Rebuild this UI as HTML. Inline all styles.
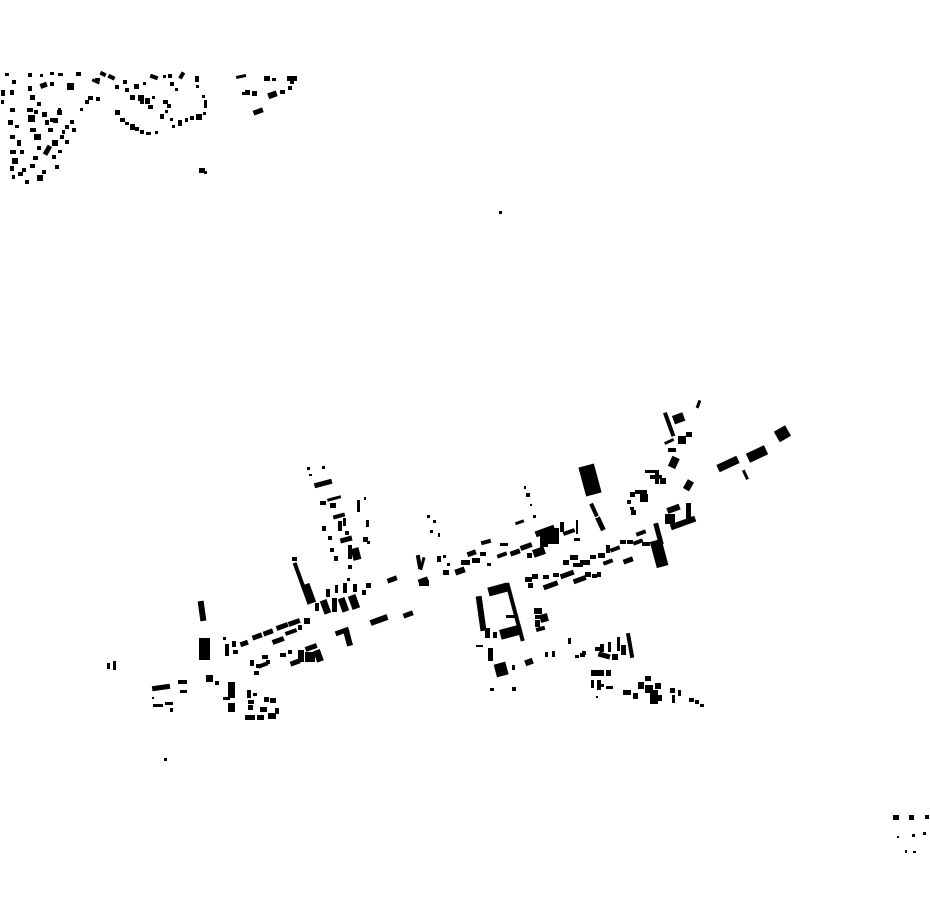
<!DOCTYPE html>
<html><head><meta charset="utf-8"><style>html,body{margin:0;padding:0;background:#fff}svg{display:block}</style></head>
<body>
<svg width="930" height="924" viewBox="0 0 930 924" xmlns="http://www.w3.org/2000/svg">
<g fill="#000">
<!-- north-west village -->
<rect x="5" y="73" width="4" height="3"/><rect x="28" y="73" width="4" height="4"/><rect x="40" y="74" width="3" height="3"/><rect x="50" y="72" width="4" height="3"/><rect x="58" y="73" width="5" height="3"/><rect x="76" y="72" width="5" height="4"/>
<rect x="12" y="80" width="4" height="4"/><rect x="1" y="90" width="4" height="6"/><rect x="10" y="90" width="4" height="5"/><rect x="1" y="100" width="3" height="4"/>
<rect x="28" y="86" width="4" height="5"/><rect x="40" y="83" width="7" height="5" transform="rotate(-20 43 85)"/><rect x="50" y="82" width="4" height="4"/><rect x="67" y="83" width="7" height="7"/>
<rect x="30" y="95" width="5" height="5"/><rect x="37" y="102" width="4" height="4"/><rect x="27" y="108" width="6" height="4"/>
<rect x="10" y="108" width="5" height="4"/><rect x="8" y="120" width="5" height="5"/><rect x="15" y="125" width="4" height="3"/>
<rect x="28" y="115" width="7" height="7"/><rect x="34" y="110" width="4" height="4"/><rect x="42" y="112" width="5" height="5"/>
<rect x="30" y="128" width="6" height="4"/><rect x="34" y="134" width="7" height="6"/><rect x="57" y="110" width="5" height="5"/>
<rect x="10" y="135" width="5" height="4"/><rect x="17" y="140" width="4" height="6"/><rect x="10" y="150" width="6" height="4"/><rect x="20" y="150" width="4" height="4"/>
<rect x="45" y="120" width="4" height="5"/><rect x="50" y="118" width="4" height="4"/><rect x="48" y="128" width="5" height="4"/>
<rect x="53" y="118" width="5" height="5"/><rect x="58" y="108" width="3" height="3"/>
<rect x="45" y="145" width="5" height="10" transform="rotate(30 47 150)"/><rect x="52" y="140" width="6" height="6"/><rect x="60" y="135" width="4" height="4"/>
<rect x="65" y="125" width="4" height="4"/><rect x="70" y="120" width="4" height="4"/><rect x="62" y="130" width="3" height="4"/>
<rect x="12" y="158" width="6" height="6"/><rect x="10" y="166" width="4" height="5"/><rect x="12" y="175" width="3" height="4"/>
<rect x="37" y="146" width="4" height="4"/><rect x="33" y="156" width="5" height="4"/><rect x="30" y="164" width="5" height="4"/><rect x="22" y="168" width="4" height="4"/>
<rect x="25" y="180" width="4" height="4"/><rect x="18" y="172" width="5" height="4"/><rect x="37" y="175" width="6" height="6"/><rect x="42" y="170" width="4" height="4"/>
<rect x="55" y="165" width="4" height="4"/><rect x="52" y="155" width="4" height="4"/><rect x="58" y="150" width="4" height="3"/>
<rect x="65" y="140" width="4" height="4"/><rect x="72" y="128" width="4" height="4"/><rect x="80" y="108" width="3" height="3"/><rect x="85" y="100" width="4" height="4"/>
<rect x="88" y="96" width="5" height="4"/><rect x="96" y="97" width="4" height="4"/>
<rect x="100" y="72" width="6" height="4" transform="rotate(25 103 74)"/><rect x="108" y="75" width="7" height="4" transform="rotate(25 111 77)"/><rect x="95" y="78" width="5" height="3"/><rect x="92" y="80" width="8" height="3" transform="rotate(25 96 81)"/>
<rect x="115" y="85" width="4" height="4"/><rect x="123" y="80" width="4" height="4"/><rect x="134" y="84" width="5" height="5"/><rect x="143" y="82" width="3" height="3"/>
<rect x="125" y="88" width="4" height="4"/><rect x="130" y="95" width="5" height="5"/><rect x="138" y="95" width="6" height="6"/><rect x="140" y="100" width="4" height="4"/>
<rect x="145" y="98" width="5" height="6"/><rect x="148" y="105" width="5" height="4"/><rect x="152" y="96" width="3" height="3"/>
<rect x="150" y="75" width="8" height="4" transform="rotate(20 154 77)"/><rect x="163" y="75" width="3" height="3"/><rect x="168" y="74" width="4" height="4"/><rect x="180" y="72" width="4" height="7" transform="rotate(30 182 75)"/>
<rect x="170" y="82" width="4" height="4"/><rect x="175" y="88" width="3" height="3"/><rect x="163" y="100" width="5" height="4"/><rect x="167" y="104" width="4" height="4"/>
<rect x="195" y="76" width="4" height="6"/><rect x="196" y="85" width="3" height="3"/><rect x="202" y="95" width="3" height="3"/><rect x="204" y="100" width="3" height="8"/><rect x="203" y="112" width="3" height="3"/>
<rect x="115" y="110" width="5" height="5"/><rect x="120" y="118" width="5" height="4"/><rect x="125" y="122" width="4" height="3"/><rect x="130" y="124" width="5" height="6"/><rect x="135" y="127" width="4" height="4"/><rect x="140" y="130" width="4" height="4"/><rect x="146" y="132" width="5" height="3"/><rect x="155" y="131" width="3" height="3"/>
<rect x="160" y="114" width="4" height="5"/><rect x="165" y="110" width="3" height="3"/><rect x="170" y="118" width="3" height="3"/><rect x="178" y="120" width="4" height="6"/><rect x="185" y="118" width="3" height="4"/><rect x="190" y="116" width="4" height="4"/><rect x="196" y="114" width="6" height="6"/><rect x="172" y="125" width="3" height="3"/>
<rect x="236" y="75" width="10" height="3" transform="rotate(-12 241 76)"/><rect x="264" y="76" width="6" height="5"/><rect x="272" y="78" width="4" height="3"/><rect x="287" y="76" width="10" height="5"/><rect x="290" y="80" width="4" height="4"/>
<rect x="245" y="90" width="5" height="5"/><rect x="252" y="91" width="5" height="5"/><rect x="242" y="92" width="3" height="3"/>
<rect x="268" y="92" width="9" height="6" transform="rotate(-20 272 95)"/><rect x="280" y="90" width="5" height="4"/><rect x="288" y="86" width="4" height="4"/>
<rect x="253" y="109" width="10" height="5" transform="rotate(-20 258 111)"/>
<rect x="199" y="168" width="6" height="5"/><rect x="204" y="171" width="3" height="3"/><rect x="499" y="211" width="3" height="3"/>

<!-- west central cluster -->
<rect x="307" y="467" width="3" height="3"/><rect x="322" y="466" width="3" height="3"/><rect x="309" y="474" width="3" height="2"/>
<rect x="314" y="481" width="18" height="5" transform="rotate(-15 323 483)"/>
<rect x="320" y="501" width="6" height="4"/><rect x="327" y="497" width="14" height="3" transform="rotate(-15 334 498)"/><rect x="330" y="503" width="6" height="5"/>
<rect x="322" y="526" width="4" height="5"/><rect x="333" y="514" width="12" height="4" transform="rotate(-15 339 516)"/><rect x="338" y="521" width="4" height="10"/><rect x="343" y="518" width="3" height="8"/>
<rect x="328" y="536" width="4" height="4"/><rect x="340" y="537" width="12" height="5" transform="rotate(-15 346 539)"/><rect x="345" y="531" width="4" height="4"/>
<rect x="330" y="548" width="4" height="4"/><rect x="348" y="545" width="4" height="14"/><rect x="352" y="548" width="8" height="12" transform="rotate(-15 356 554)"/>
<rect x="334" y="556" width="4" height="5"/><rect x="348" y="565" width="4" height="4"/><rect x="357" y="500" width="3" height="12"/><rect x="364" y="497" width="2" height="3"/>
<rect x="366" y="520" width="3" height="7"/><rect x="363" y="537" width="5" height="5"/><rect x="367" y="541" width="3" height="3"/>
<rect x="292" y="557" width="5" height="4"/><rect x="297" y="562" width="4" height="25" transform="rotate(-20 299 575)"/><rect x="304" y="584" width="9" height="20" transform="rotate(-20 308 594)"/>
<rect x="326" y="589" width="4" height="8"/><rect x="335" y="585" width="3" height="8"/><rect x="343" y="583" width="4" height="10"/><rect x="347" y="578" width="3" height="3"/><rect x="353" y="584" width="4" height="8"/><rect x="362" y="590" width="4" height="5"/><rect x="366" y="583" width="5" height="5"/>
<rect x="315" y="603" width="4" height="8"/><rect x="322" y="600" width="7" height="14" transform="rotate(-20 325 607)"/><rect x="332" y="598" width="5" height="14"/><rect x="340" y="598" width="7" height="14" transform="rotate(-20 343 605)"/><rect x="350" y="595" width="8" height="14" transform="rotate(-20 354 602)"/>
<rect x="199" y="601" width="6" height="20" transform="rotate(-8 202 611)"/>
<rect x="199" y="638" width="11" height="22"/>
<rect x="223" y="637" width="3" height="3"/><rect x="225" y="644" width="4" height="12"/><rect x="232" y="641" width="4" height="6"/><rect x="233" y="650" width="5" height="4"/>
<rect x="240" y="641" width="8" height="5" transform="rotate(-20 244 643)"/><rect x="252" y="634" width="10" height="5" transform="rotate(-20 257 636)"/><rect x="263" y="630" width="10" height="5" transform="rotate(-20 268 632)"/><rect x="276" y="624" width="12" height="5" transform="rotate(-20 282 626)"/><rect x="288" y="620" width="12" height="5" transform="rotate(-20 294 622)"/>
<rect x="272" y="638" width="12" height="5" transform="rotate(-20 278 640)"/><rect x="285" y="630" width="12" height="4" transform="rotate(-20 291 632)"/><rect x="298" y="625" width="4" height="5"/><rect x="304" y="618" width="6" height="6"/>
<rect x="250" y="660" width="4" height="6"/><rect x="256" y="664" width="5" height="4"/><rect x="254" y="671" width="5" height="4"/><rect x="262" y="655" width="6" height="4"/><rect x="266" y="660" width="4" height="4"/>
<rect x="258" y="663" width="10" height="4" transform="rotate(-20 263 665)"/><rect x="280" y="653" width="6" height="4"/><rect x="288" y="650" width="4" height="4"/>
<rect x="290" y="660" width="10" height="5" transform="rotate(-20 295 662)"/><rect x="298" y="650" width="6" height="12"/><rect x="305" y="645" width="12" height="5" transform="rotate(-20 311 647)"/><rect x="305" y="652" width="10" height="10"/><rect x="315" y="650" width="7" height="12" transform="rotate(-20 318 656)"/>
<rect x="335" y="629" width="14" height="5" transform="rotate(-20 342 631)"/><rect x="345" y="630" width="6" height="16" transform="rotate(-15 348 638)"/>
<rect x="370" y="617" width="18" height="6" transform="rotate(-20 379 620)"/><rect x="403" y="612" width="10" height="5" transform="rotate(-20 408 614)"/>
<rect x="387" y="577" width="10" height="5" transform="rotate(-20 392 579)"/><rect x="418" y="578" width="10" height="5" transform="rotate(-20 423 580)"/><rect x="421" y="557" width="3" height="13" transform="rotate(15 422 563)"/><rect x="427" y="515" width="3" height="3"/><rect x="433" y="520" width="3" height="3"/>
<rect x="107" y="663" width="3" height="6"/><rect x="113" y="661" width="3" height="9"/>
<rect x="152" y="685" width="18" height="5" transform="rotate(-8 161 687)"/><rect x="178" y="680" width="9" height="4"/><rect x="180" y="690" width="7" height="3"/>
<rect x="153" y="704" width="10" height="3"/><rect x="165" y="702" width="8" height="3"/><rect x="170" y="708" width="3" height="4"/><rect x="152" y="697" width="2" height="2"/>
<rect x="206" y="675" width="7" height="7"/><rect x="215" y="681" width="4" height="4"/><rect x="228" y="682" width="7" height="16"/><rect x="223" y="697" width="7" height="3"/><rect x="228" y="703" width="7" height="9"/>
<rect x="247" y="690" width="4" height="8"/><rect x="253" y="693" width="4" height="3"/><rect x="248" y="700" width="6" height="4"/><rect x="264" y="697" width="5" height="5"/><rect x="270" y="698" width="6" height="5"/><rect x="248" y="705" width="5" height="5"/>
<rect x="260" y="707" width="7" height="5"/><rect x="275" y="708" width="4" height="6"/><rect x="245" y="715" width="10" height="5"/><rect x="257" y="715" width="7" height="5"/><rect x="268" y="713" width="8" height="6"/>
<rect x="164" y="758" width="3" height="3"/>

<!-- east central -->
<rect x="697" y="400" width="3" height="8" transform="rotate(20 698 404)"/>
<rect x="667" y="412" width="4" height="25" transform="rotate(-20 669 424)"/><rect x="673" y="414" width="11" height="9" transform="rotate(-20 678 418)"/>
<rect x="776" y="428" width="13" height="12" transform="rotate(-30 782 434)"/><rect x="747" y="449" width="20" height="10" transform="rotate(-25 757 454)"/><rect x="717" y="460" width="22" height="8" transform="rotate(-25 728 464)"/><rect x="744" y="470" width="3" height="10" transform="rotate(-25 745 475)"/>
<rect x="678" y="436" width="8" height="8"/><rect x="686" y="432" width="6" height="5"/><rect x="664" y="440" width="10" height="3" transform="rotate(-25 669 441)"/><rect x="668" y="448" width="8" height="4"/>
<rect x="582" y="465" width="16" height="30" transform="rotate(-15 590 480)"/>
<rect x="670" y="457" width="8" height="11" transform="rotate(25 674 462)"/><rect x="685" y="480" width="7" height="10" transform="rotate(30 688 485)"/>
<rect x="645" y="470" width="10" height="3"/><rect x="650" y="475" width="12" height="4"/><rect x="655" y="470" width="4" height="14"/><rect x="660" y="478" width="6" height="6"/>
<rect x="630" y="492" width="5" height="5"/><rect x="635" y="490" width="12" height="4"/><rect x="640" y="494" width="8" height="8"/><rect x="627" y="500" width="4" height="4"/><rect x="630" y="507" width="4" height="3"/>
<rect x="667" y="506" width="13" height="6" transform="rotate(-20 673 509)"/><rect x="665" y="514" width="10" height="10"/><rect x="686" y="503" width="5" height="16"/><rect x="670" y="520" width="26" height="6" transform="rotate(-20 683 523)"/><rect x="631" y="510" width="5" height="5"/>
<rect x="653" y="540" width="12" height="27" transform="rotate(-15 659 553)"/><rect x="656" y="523" width="5" height="22" transform="rotate(-15 658 534)"/>
<rect x="592" y="503" width="4" height="14" transform="rotate(-25 594 510)"/><rect x="598" y="517" width="5" height="14" transform="rotate(-25 600 524)"/>
<rect x="524" y="486" width="2" height="3"/><rect x="526" y="493" width="4" height="4"/><rect x="530" y="504" width="2" height="2"/><rect x="533" y="515" width="3" height="3"/>
<rect x="515" y="521" width="9" height="3" transform="rotate(-20 519 522)"/>
<rect x="535" y="528" width="20" height="6" transform="rotate(-20 545 531)"/><rect x="540" y="533" width="8" height="14"/><rect x="548" y="530" width="6" height="14"/><rect x="554" y="528" width="5" height="16"/><rect x="560" y="522" width="4" height="10"/>
<rect x="563" y="530" width="12" height="4" transform="rotate(-20 569 532)"/><rect x="576" y="520" width="2" height="14"/><rect x="574" y="538" width="6" height="3"/>
<rect x="520" y="544" width="12" height="5" transform="rotate(-20 526 546)"/><rect x="510" y="550" width="10" height="5" transform="rotate(-20 515 552)"/><rect x="527" y="553" width="5" height="5"/><rect x="533" y="548" width="12" height="8" transform="rotate(-20 539 552)"/>
<rect x="497" y="553" width="10" height="4" transform="rotate(-20 502 555)"/><rect x="480" y="552" width="6" height="4"/><rect x="467" y="551" width="9" height="5" transform="rotate(-20 471 553)"/><rect x="472" y="558" width="8" height="5"/><rect x="487" y="563" width="4" height="3"/><rect x="461" y="560" width="9" height="5"/>
<rect x="481" y="540" width="10" height="4" transform="rotate(-15 486 542)"/><rect x="500" y="543" width="8" height="3"/>
<rect x="437" y="556" width="4" height="6"/><rect x="443" y="555" width="3" height="3"/><rect x="443" y="570" width="6" height="5"/><rect x="455" y="568" width="10" height="6" transform="rotate(-20 460 571)"/><rect x="447" y="563" width="3" height="3"/>
<rect x="430" y="530" width="3" height="3"/><rect x="438" y="533" width="2" height="4"/><rect x="417" y="555" width="4" height="14" transform="rotate(-10 419 562)"/><rect x="419" y="580" width="10" height="6"/>
<rect x="525" y="577" width="7" height="5"/><rect x="532" y="574" width="6" height="5"/><rect x="528" y="583" width="5" height="5"/><rect x="543" y="575" width="6" height="4"/><rect x="553" y="573" width="6" height="4"/><rect x="543" y="583" width="15" height="5" transform="rotate(-20 550 585)"/>
<rect x="560" y="572" width="14" height="5" transform="rotate(-20 567 574)"/><rect x="573" y="577" width="13" height="5" transform="rotate(-20 580 579)"/><rect x="585" y="572" width="6" height="5"/><rect x="592" y="574" width="5" height="4"/><rect x="597" y="572" width="4" height="5"/>
<rect x="563" y="560" width="6" height="5"/><rect x="570" y="555" width="8" height="5"/><rect x="580" y="560" width="10" height="5"/><rect x="573" y="563" width="10" height="4"/><rect x="590" y="555" width="6" height="4"/><rect x="598" y="553" width="7" height="5"/>
<rect x="603" y="560" width="10" height="4" transform="rotate(-20 608 562)"/><rect x="606" y="545" width="4" height="8"/><rect x="610" y="547" width="10" height="4" transform="rotate(-20 615 549)"/><rect x="620" y="540" width="6" height="4"/><rect x="627" y="540" width="6" height="4"/><rect x="623" y="558" width="10" height="5" transform="rotate(-20 628 560)"/><rect x="633" y="540" width="10" height="4" transform="rotate(-20 638 542)"/><rect x="636" y="531" width="10" height="4" transform="rotate(-20 641 533)"/><rect x="642" y="542" width="8" height="4"/>
<rect x="488" y="585" width="20" height="9" transform="rotate(-15 498 589)"/><rect x="513" y="582" width="4" height="60" transform="rotate(-15 515 612)"/>
<rect x="478" y="596" width="6" height="35" transform="rotate(-8 481 613)"/><rect x="485" y="628" width="5" height="10"/><rect x="493" y="632" width="4" height="6"/><rect x="476" y="645" width="7" height="2"/>
<rect x="506" y="615" width="10" height="3"/><rect x="500" y="627" width="22" height="10" transform="rotate(-15 511 632)"/>
<rect x="534" y="608" width="8" height="6"/><rect x="535" y="615" width="8" height="4"/><rect x="535" y="620" width="5" height="7"/><rect x="540" y="614" width="8" height="8" transform="rotate(-15 544 618)"/><rect x="536" y="627" width="9" height="4" transform="rotate(-15 540 629)"/>
<rect x="488" y="648" width="5" height="13"/><rect x="495" y="663" width="12" height="13" transform="rotate(-15 501 669)"/><rect x="512" y="665" width="3" height="5"/><rect x="525" y="659" width="8" height="6" transform="rotate(-20 529 662)"/>
<rect x="545" y="652" width="3" height="5"/><rect x="552" y="651" width="3" height="6"/><rect x="568" y="638" width="3" height="6"/><rect x="580" y="653" width="5" height="4"/><rect x="575" y="655" width="4" height="3"/>
<rect x="595" y="647" width="8" height="4"/><rect x="600" y="644" width="4" height="8"/><rect x="608" y="642" width="3" height="10"/><rect x="598" y="653" width="12" height="5" transform="rotate(15 604 656)"/><rect x="612" y="654" width="6" height="6"/><rect x="617" y="637" width="3" height="14"/><rect x="628" y="633" width="4" height="25" transform="rotate(-10 630 645)"/><rect x="621" y="645" width="5" height="10"/><rect x="582" y="651" width="4" height="4"/>
<rect x="490" y="688" width="4" height="3"/><rect x="512" y="687" width="4" height="4"/>
<rect x="591" y="670" width="7" height="6"/><rect x="598" y="670" width="6" height="6"/><rect x="591" y="680" width="3" height="8"/><rect x="597" y="680" width="4" height="10"/><rect x="606" y="670" width="5" height="6"/><rect x="601" y="684" width="3" height="3"/><rect x="606" y="686" width="7" height="3"/><rect x="596" y="696" width="2" height="2"/>
<rect x="623" y="690" width="8" height="5"/><rect x="633" y="693" width="5" height="6"/><rect x="638" y="682" width="6" height="7"/><rect x="645" y="676" width="6" height="5"/><rect x="645" y="685" width="8" height="8"/><rect x="650" y="690" width="8" height="14"/><rect x="655" y="683" width="6" height="6"/><rect x="658" y="695" width="4" height="6"/>
<rect x="670" y="688" width="5" height="5"/><rect x="672" y="695" width="3" height="8"/><rect x="678" y="690" width="3" height="6"/><rect x="689" y="698" width="5" height="4"/><rect x="695" y="700" width="4" height="4"/><rect x="700" y="704" width="4" height="3"/>

<!-- far south-east -->
<rect x="893" y="815" width="6" height="5"/><rect x="909" y="815" width="5" height="5"/><rect x="925" y="815" width="4" height="4"/><rect x="912" y="834" width="3" height="3"/><rect x="923" y="832" width="3" height="3"/><rect x="905" y="850" width="2" height="3"/><rect x="913" y="851" width="3" height="2"/><rect x="897" y="836" width="2" height="2"/>
</g>
</svg>
</body></html>
